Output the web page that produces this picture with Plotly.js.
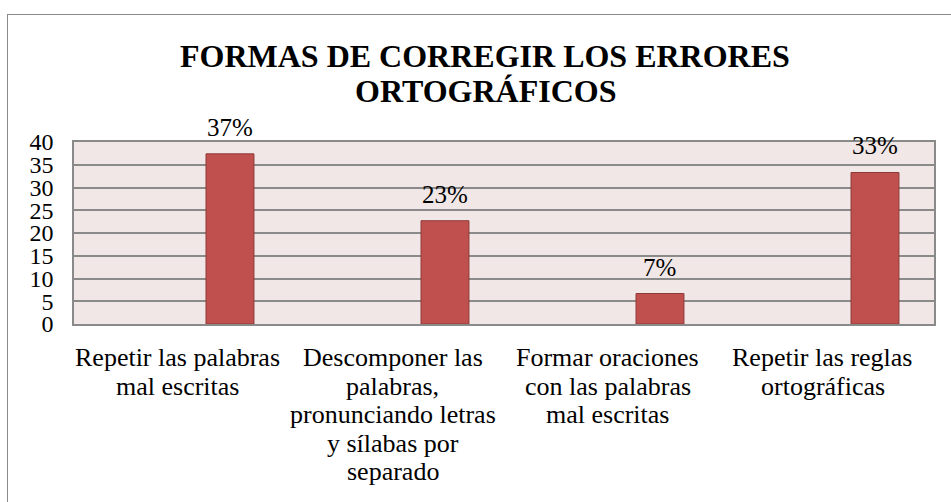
<!DOCTYPE html>
<html>
<head>
<meta charset="utf-8">
<script src="https://cdn.plot.ly/plotly-3.0.1.min.js"></script>
<style>
html,body{margin:0;padding:0;background:#fff;overflow:hidden;}
#chart{width:951px;height:502px;}
#frame{position:absolute;left:7px;top:14px;width:1000px;height:600px;border:1.5px solid #8a8a8a;box-sizing:border-box;pointer-events:none;}
.fontprime{position:absolute;left:0;top:0;font-family:'Liberation Serif';font-size:26px;line-height:1px;}
.fontprime b{font-weight:bold;}
</style>
</head>
<body>
<div class="fontprime">&nbsp;<b>&nbsp;</b></div>
<div id="chart"></div>
<div id="frame"></div>
<script>
var titleLines = ["FORMAS DE CORREGIR LOS ERRORES", "ORTOGRÁFICOS"];
var categories = [
  "Repetir las palabras<br>mal escritas",
  "Descomponer las<br>palabras,<br>pronunciando letras<br>y sílabas por<br>separado",
  "Formar oraciones<br>con las palabras<br>mal escritas",
  "Repetir las reglas<br>ortográficas"
];
var values = [37.4, 22.7, 6.7, 33.3];
var valueLabels = ["37%", "23%", "7%", "33%"];
var yTicks = [0, 5, 10, 15, 20, 25, 30, 35, 40];

var FONT = 'Liberation Serif';
var barOffset = 0.114, barWidth = 0.223;

var trace = {
  type: 'bar',
  x: categories,
  y: values,
  offset: barOffset,
  width: barWidth,
  marker: {color: '#C0504D', line: {color: '#8C3A38', width: 1}},
  hoverinfo: 'none'
};

var annotations = [];
values.forEach(function(v, i){
  annotations.push({
    x: i + barOffset + barWidth/2, y: v, xref: 'x', yref: 'y',
    text: valueLabels[i], showarrow: false, yanchor: 'bottom', yshift: 11,
    font: {family: FONT, size: 25, color: '#000'}
  });
});
categories.forEach(function(c, i){
  c.split('<br>').forEach(function(line, k){
    annotations.push({
      x: i, y: 0, xref: 'x', yref: 'y',
      text: line, showarrow: false, yanchor: 'top', xanchor: 'center',
      xshift: -4, yshift: -17 - 28.6*k,
      font: {family: FONT, size: 26, color: '#000'}
    });
  });
});
titleLines.forEach(function(t, k){
  annotations.push({
    x: (485 - 74)/860, y: k === 0 ? 1.582 : 1.39, xref: 'paper', yref: 'paper',
    text: '<b>' + t + '</b>', showarrow: false, yanchor: 'top', xanchor: 'center',
    font: {family: FONT, size: 32, color: '#000'}
  });
});

var layout = {
  width: 951, height: 502,
  margin: {l: 74, r: 17, t: 142, b: 178},
  paper_bgcolor: '#ffffff',
  plot_bgcolor: '#F2E7E7',
  showlegend: false,
  xaxis: {
    type: 'category',
    showgrid: false,
    showticklabels: false,
    showline: true, linecolor: '#8a8a8a', linewidth: 1.5, mirror: true,
    range: [-0.5, 3.5]
  },
  yaxis: {
    range: [0, 40],
    tickvals: yTicks,
    ticktext: yTicks.map(String),
    showgrid: true, gridcolor: '#8a8a8a', gridwidth: 1.5,
    showline: true, linecolor: '#8a8a8a', linewidth: 1.5, mirror: true,
    zeroline: false,
    ticks: 'outside', ticklen: 14, tickcolor: 'rgba(0,0,0,0)',
    tickfont: {family: FONT, size: 24, color: '#000'}
  },
  annotations: annotations
};

Plotly.newPlot('chart', [trace], layout, {displayModeBar: false});
</script>
</body>
</html>
